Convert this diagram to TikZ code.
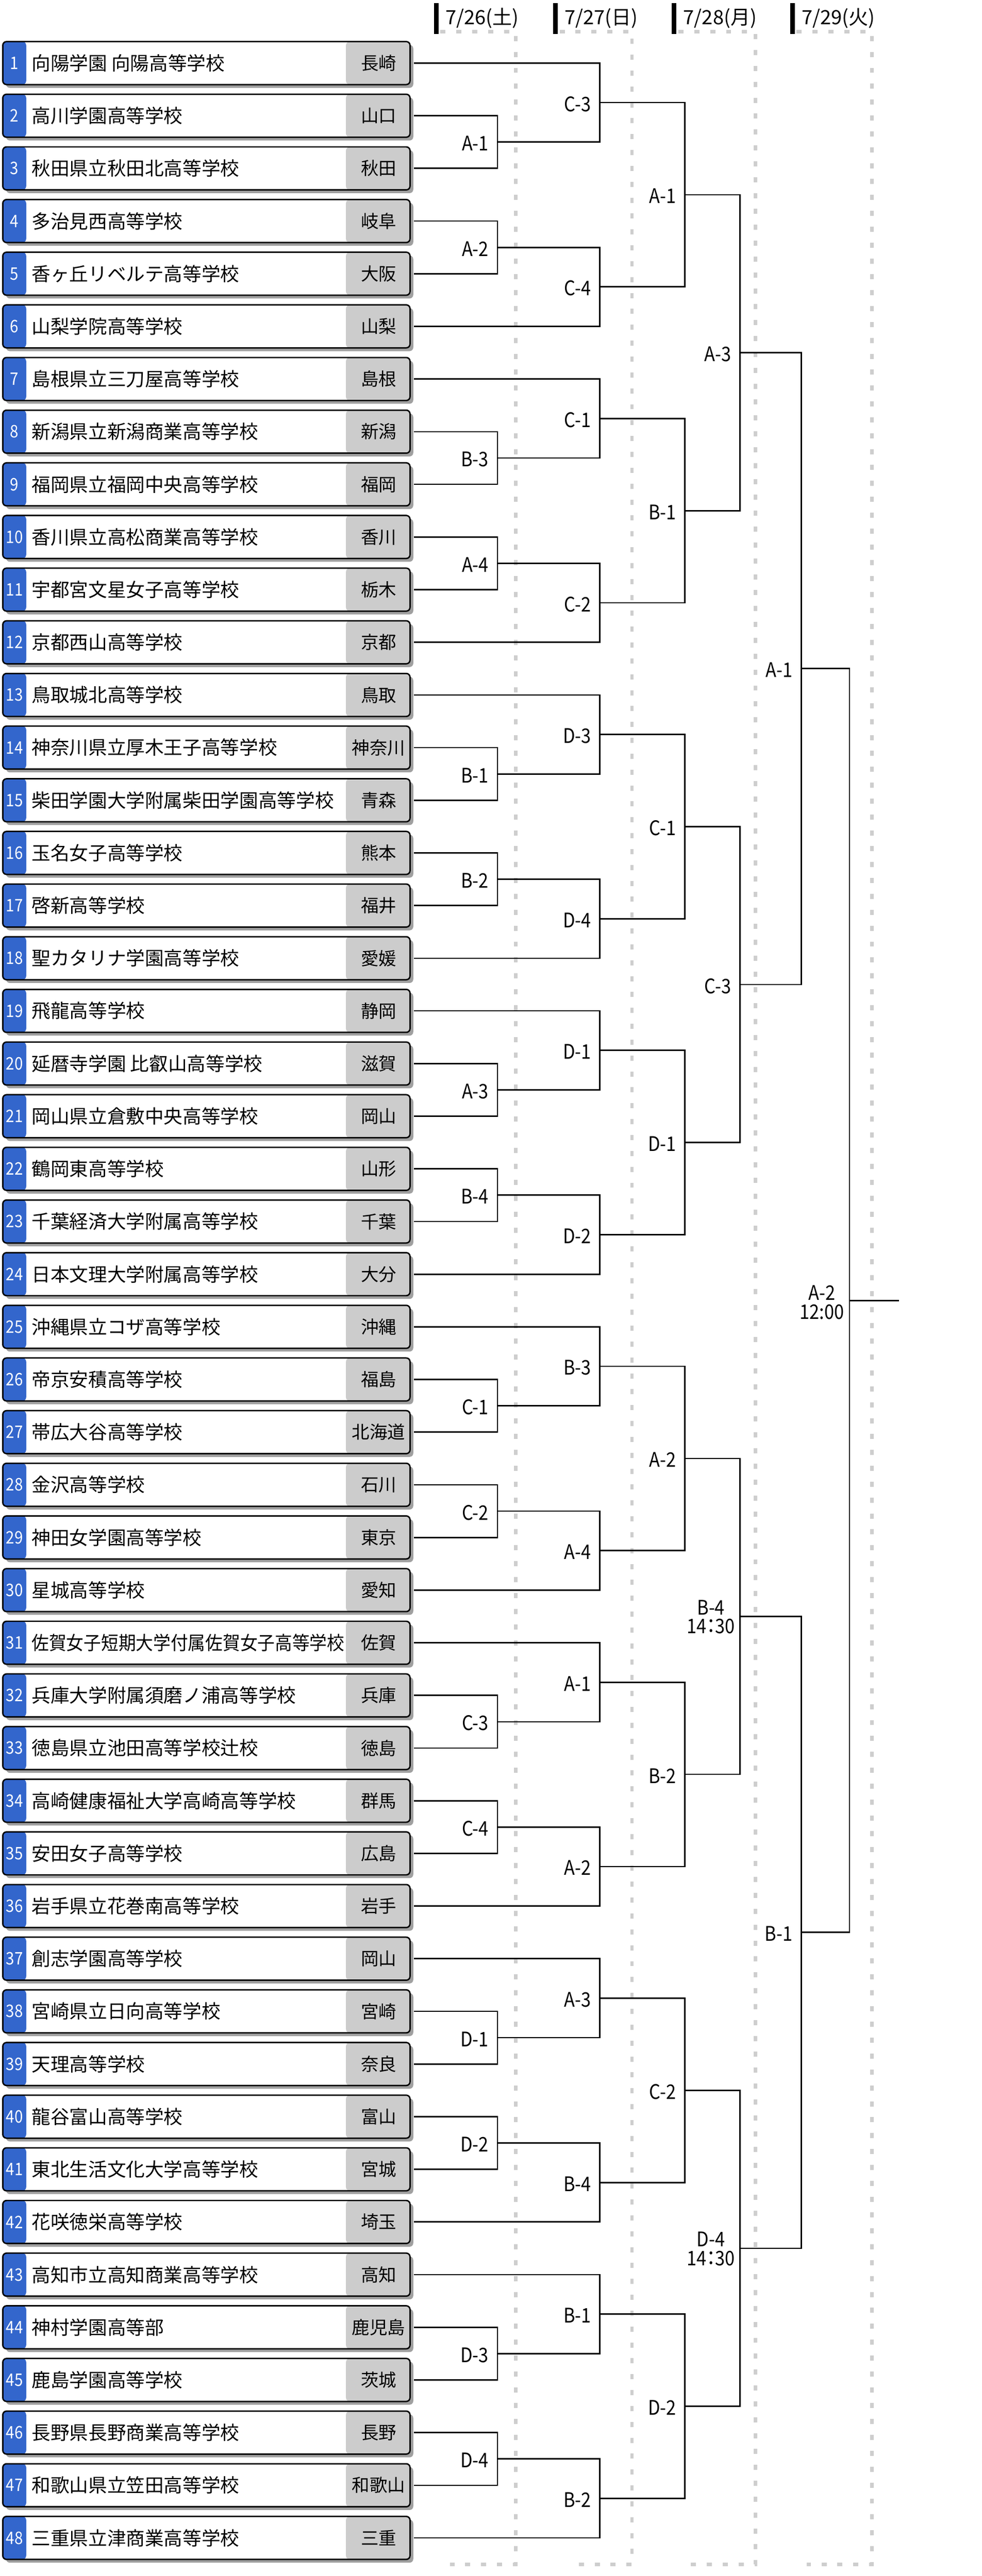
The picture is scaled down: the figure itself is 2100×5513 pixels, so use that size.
\documentclass[tikz,border=0pt]{standalone}
\usepackage{fontspec}
\usepackage{graphicx}
\setmainfont{Noto Sans CJK JP}
\newfontfamily\jpfont{Noto Sans CJK JP}
\newfontfamily\condfont[FakeStretch=0.88]{Noto Sans CJK JP}
\newfontfamily\condpfont[FakeStretch=0.88,RawFeature=+palt]{Noto Sans CJK JP}
\definecolor{numblue}{RGB}{51,102,204}
\definecolor{prefgray}{RGB}{204,204,204}
\definecolor{shadowgray}{RGB}{160,160,160}
\definecolor{gridgray}{RGB}{206,206,206}
\tikzset{
  teambox/.style={draw=black, line width=0.75pt, rounded corners=2pt, fill=white,
    minimum width=217.75pt, minimum height=23pt, inner sep=0pt, outer sep=0pt,
    path picture={
      \fill[numblue] (path picture bounding box.north west) rectangle ([xshift=12.5pt]path picture bounding box.south west);
      \fill[prefgray] ([xshift=-34.25pt]path picture bounding box.north east) rectangle (path picture bounding box.south east);
    }},
  teamshadow/.style={fill=shadowgray, rounded corners=2pt},
  numtext/.style={font={\condfont\fontsize{9.25pt}{9.25pt}\selectfont}, text=white, inner sep=0pt},
  nametext/.style={font={\jpfont\fontsize{10.1pt}{10.1pt}\selectfont}, anchor=west, inner sep=0pt},
  preftext/.style={font={\jpfont\fontsize{9.5pt}{9.5pt}\selectfont}, inner sep=0pt},
  bracket/.style={draw=black, line width=0.75pt},
  lab/.style={font={\condfont\fontsize{10.75pt}{10pt}\selectfont}, anchor=east, inner sep=0pt},
  labtwo/.style={font={\condpfont\fontsize{10.75pt}{10pt}\selectfont}, anchor=east, inner sep=0pt, align=center},
  gridline/.style={draw=gridgray, line width=1.75pt, dash pattern=on 2.75pt off 5.75pt},
  datebar/.style={draw=black, line width=2.5pt},
  datetext/.style={font={\jpfont\fontsize{10.5pt}{10.5pt}\selectfont}, anchor=west, inner sep=0pt}
}
\newcommand\team[3]{%
  \pgfmathsetmacro\teamY{135+(#1-1)*112.69}
  \fill[teamshadow] (13,\teamY-39) rectangle (884,\teamY+53);
  \node[teambox] (t#1) at (441.5,\teamY) {};
  \node[numtext] (n#1) at (31,\teamY) {#1};
  \node[nametext] (s#1) at (67,\teamY) {#2};
  \node[preftext] (p#1) at (810,\teamY) {#3};
  \coordinate (e#1) at ([xshift=2pt]t#1.east);
}
% group with bye at top
\newcommand\groupT[3]{%
  \pgfmathtruncatemacro\grpA{3*#1-2}%
  \pgfmathtruncatemacro\grpB{3*#1-1}%
  \pgfmathtruncatemacro\grpC{3*#1}%
  \pgfmathsetmacro\grpY{135+(\grpA-1)*112.69}%
  \coordinate (a#1) at (1064,\grpY+1.5*112.69);
  \coordinate (b#1) at (1283,\grpY+0.75*112.69);
  \draw[bracket] (e\grpB) -| (a#1) |- (e\grpC);
  \draw[bracket] (e\grpA) -| (b#1) |- (a#1);
  \node[lab] (la#1) at ([xshift=-4.5pt,yshift=-0.75pt]a#1) {#2};
  \node[lab] (lb#1) at ([xshift=-4.5pt,yshift=-0.75pt]b#1) {#3};
}
% group with bye at bottom
\newcommand\groupB[3]{%
  \pgfmathtruncatemacro\grpA{3*#1-2}%
  \pgfmathtruncatemacro\grpB{3*#1-1}%
  \pgfmathtruncatemacro\grpC{3*#1}%
  \pgfmathsetmacro\grpY{135+(\grpA-1)*112.69}%
  \coordinate (a#1) at (1064,\grpY+0.5*112.69);
  \coordinate (b#1) at (1283,\grpY+1.25*112.69);
  \draw[bracket] (e\grpA) -| (a#1) |- (e\grpB);
  \draw[bracket] (a#1) -| (b#1) |- (e\grpC);
  \node[lab] (la#1) at ([xshift=-4.5pt,yshift=-0.75pt]a#1) {#2};
  \node[lab] (lb#1) at ([xshift=-4.5pt,yshift=-0.75pt]b#1) {#3};
}
\newcommand\rthree[2]{%
  \pgfmathtruncatemacro\grpA{2*#1-1}%
  \pgfmathtruncatemacro\grpB{2*#1}%
  \pgfmathsetmacro\grpY{135+(6*#1-6)*112.69+2.5*112.69}%
  \coordinate (c#1) at (1465,\grpY);
  \draw[bracket] (b\grpA) -| (c#1) |- (b\grpB);
  \node[lab] (lc#1) at ([xshift=-4.5pt,yshift=-0.75pt]c#1) {#2};
}
\newcommand\rfour[1]{%
  \pgfmathtruncatemacro\grpA{2*#1-1}%
  \pgfmathtruncatemacro\grpB{2*#1}%
  \pgfmathsetmacro\grpY{135+(12*#1-12)*112.69+5.5*112.69}%
  \coordinate (d#1) at (1583,\grpY);
  \draw[bracket] (c\grpA) -| (d#1) |- (c\grpB);
}
\newcommand\rfive[2]{%
  \pgfmathtruncatemacro\grpA{2*#1-1}%
  \pgfmathtruncatemacro\grpB{2*#1}%
  \pgfmathsetmacro\grpY{135+(24*#1-24)*112.69+11.5*112.69}%
  \coordinate (f#1) at (1714,\grpY);
  \draw[bracket] (d\grpA) -| (f#1) |- (d\grpB);
  \node[lab] (lf#1) at ([xshift=-4.5pt,yshift=-0.75pt]f#1) {#2};
}
\newcommand\datecol[4]{%
  \draw[gridline] (#1+9,68) -- (#2,68) -- (#2,5488) -- (#1+30,5488);
  \draw[datebar] (#1,7) -- (#1,73);
  \node[datetext] (dt#4) at (#1+19,39) {#3};
}
\begin{document}
\begin{tikzpicture}[x=0.25pt,y=-0.25pt]
\fill[white] (0,0) rectangle (2100,5513);
\useasboundingbox (0,0) rectangle (2100,5513);

% date columns
\datecol{933}{1103}{7/26(土)}{1}
\datecol{1188}{1352}{7/27(日)}{2}
\datecol{1442}{1616}{7/28(月)}{3}
\datecol{1695}{1865}{7/29(火)}{4}

% teams
\team{1}{向陽学園 向陽高等学校}{長崎}
\team{2}{高川学園高等学校}{山口}
\team{3}{秋田県立秋田北高等学校}{秋田}
\team{4}{多治見西高等学校}{岐阜}
\team{5}{香ヶ丘リベルテ高等学校}{大阪}
\team{6}{山梨学院高等学校}{山梨}
\team{7}{島根県立三刀屋高等学校}{島根}
\team{8}{新潟県立新潟商業高等学校}{新潟}
\team{9}{福岡県立福岡中央高等学校}{福岡}
\team{10}{香川県立高松商業高等学校}{香川}
\team{11}{宇都宮文星女子高等学校}{栃木}
\team{12}{京都西山高等学校}{京都}
\team{13}{鳥取城北高等学校}{鳥取}
\team{14}{神奈川県立厚木王子高等学校}{神奈川}
\team{15}{柴田学園大学附属柴田学園高等学校}{青森}
\team{16}{玉名女子高等学校}{熊本}
\team{17}{啓新高等学校}{福井}
\team{18}{聖カタリナ学園高等学校}{愛媛}
\team{19}{飛龍高等学校}{静岡}
\team{20}{延暦寺学園 比叡山高等学校}{滋賀}
\team{21}{岡山県立倉敷中央高等学校}{岡山}
\team{22}{鶴岡東高等学校}{山形}
\team{23}{千葉経済大学附属高等学校}{千葉}
\team{24}{日本文理大学附属高等学校}{大分}
\team{25}{沖縄県立コザ高等学校}{沖縄}
\team{26}{帝京安積高等学校}{福島}
\team{27}{帯広大谷高等学校}{北海道}
\team{28}{金沢高等学校}{石川}
\team{29}{神田女学園高等学校}{東京}
\team{30}{星城高等学校}{愛知}
\team{31}{\scalebox{0.92}[1]{佐賀女子短期大学付属佐賀女子高等学校}}{佐賀}
\team{32}{兵庫大学附属須磨ノ浦高等学校}{兵庫}
\team{33}{徳島県立池田高等学校辻校}{徳島}
\team{34}{高崎健康福祉大学高崎高等学校}{群馬}
\team{35}{安田女子高等学校}{広島}
\team{36}{岩手県立花巻南高等学校}{岩手}
\team{37}{創志学園高等学校}{岡山}
\team{38}{宮崎県立日向高等学校}{宮崎}
\team{39}{天理高等学校}{奈良}
\team{40}{龍谷富山高等学校}{富山}
\team{41}{東北生活文化大学高等学校}{宮城}
\team{42}{花咲徳栄高等学校}{埼玉}
\team{43}{高知市立高知商業高等学校}{高知}
\team{44}{神村学園高等部}{鹿児島}
\team{45}{鹿島学園高等学校}{茨城}
\team{46}{長野県長野商業高等学校}{長野}
\team{47}{和歌山県立笠田高等学校}{和歌山}
\team{48}{三重県立津商業高等学校}{三重}

% rounds 1 and 2
\groupT{1}{A-1}{C-3}
\groupB{2}{A-2}{C-4}
\groupT{3}{B-3}{C-1}
\groupB{4}{A-4}{C-2}
\groupT{5}{B-1}{D-3}
\groupB{6}{B-2}{D-4}
\groupT{7}{A-3}{D-1}
\groupB{8}{B-4}{D-2}
\groupT{9}{C-1}{B-3}
\groupB{10}{C-2}{A-4}
\groupT{11}{C-3}{A-1}
\groupB{12}{C-4}{A-2}
\groupT{13}{D-1}{A-3}
\groupB{14}{D-2}{B-4}
\groupT{15}{D-3}{B-1}
\groupB{16}{D-4}{B-2}

% round 3
\rthree{1}{A-1}
\rthree{2}{B-1}
\rthree{3}{C-1}
\rthree{4}{D-1}
\rthree{5}{A-2}
\rthree{6}{B-2}
\rthree{7}{C-2}
\rthree{8}{D-2}

% round 4
\rfour{1}
\rfour{2}
\rfour{3}
\rfour{4}
\node[lab] (ld1) at ([xshift=-4.5pt,yshift=-0.75pt]d1) {A-3};
\node[lab] (ld2) at ([xshift=-4.5pt,yshift=-0.75pt]d2) {C-3};
\node[labtwo] (ld3) at ([xshift=-2.5pt,yshift=-0.25pt]d3) {B-4\\14：30};
\node[labtwo] (ld4) at ([xshift=-2.5pt,yshift=-0.25pt]d4) {D-4\\14：30};

% round 5
\rfive{1}{A-1}
\rfive{2}{B-1}

% final
\coordinate (fin) at (1817,{135+23.5*112.69});
\coordinate (finend) at (1923,{135+23.5*112.69});
\draw[bracket] (f1) -| (fin) |- (f2);
\draw[bracket] (fin) -- (finend);
\node[labtwo] (lfin) at ([xshift=-2.75pt,yshift=-1pt]fin) {A-2\\12:00};
\end{tikzpicture}
\end{document}
